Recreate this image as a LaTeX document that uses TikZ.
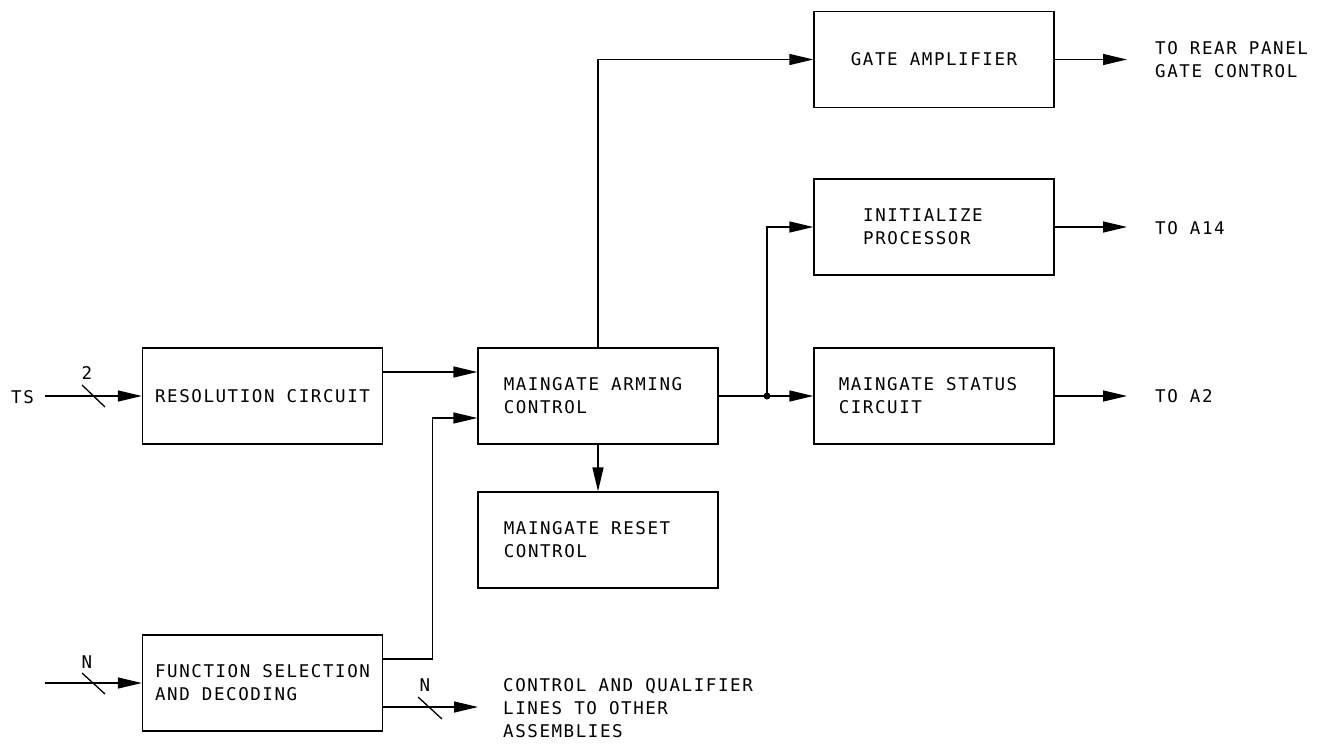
\documentclass[tikz,border=0pt]{standalone}
\usepackage{fontspec}
\newfontfamily\plotfont{DejaVu Sans Mono}[LetterSpace=9]
\usetikzlibrary{arrows.meta}
\begin{document}
\begin{tikzpicture}[x=1pt,y=-1pt,
  every node/.style={font=\plotfont\fontsize{17.5}{23}\selectfont, inner sep=0pt},
  blk/.style={draw, line width=1.3pt, minimum width=240pt, minimum height=96pt, align=left},
  wire/.style={line width=1.3pt},
  arr/.style={wire, -{Triangle[length=24pt,width=11pt]}},
  lbl/.style={anchor=west, align=left}
]
\useasboundingbox (0,0) rectangle (1324,747);

% blocks
\node[blk] (res)  at (262.5,396) {RESOLUTION CIRCUIT};
\node[blk] (arm)  at (598,396)   {MAINGATE ARMING\hspace*{10pt}\\CONTROL};
\node[blk] (rst)  at (598,540)   {MAINGATE RESET\hspace*{22pt}\\CONTROL};
\node[blk] (fun)  at (262.5,683) {FUNCTION SELECTION\\AND DECODING};
\node[blk] (gate) at (934,59.5)  {GATE AMPLIFIER};
\node[blk] (init) at (934,227)   {INITIALIZE\hspace*{22pt}\\PROCESSOR};
\node[blk] (stat) at (934,396)   {MAINGATE STATUS\hspace*{12pt}\\CIRCUIT};

% free texts
\node[lbl] (ts) at (11,397) {TS};
\node (two) at (87,373) {2};
\node (n1) at (87,662) {N};
\node (n2) at (425,685) {N};
\node[lbl] (rear) at (1155,60) {TO REAR PANEL\\GATE CONTROL};
\node[lbl] (a14) at (1155,228) {TO A14};
\node[lbl] (a2) at (1155,396) {TO A2};
\node[lbl] (cq) at (503,708) {CONTROL AND QUALIFIER\\LINES TO OTHER\\ASSEMBLIES};

% coordinates
\coordinate (tsin) at (45,396);
\coordinate (fin) at (45,683);
\coordinate (fo) at (478,707);
\coordinate (j) at (767,396);
\coordinate (o1) at (1127,59.5);
\coordinate (o2) at (1127,227);
\coordinate (o3) at (1127,396);

% connectors
\draw[arr] (tsin) -- (res.west);
\draw[wire] (82,385) -- (105,407);
\draw[arr] (fin) -- (fun.west);
\draw[wire] (82,673) -- (105,694);
\draw[arr] ([yshift=24pt]res.east) -- ([yshift=24pt]arm.west);
\draw[arr] ([yshift=24pt]fun.east) -- ++(49,0) |- ([yshift=-22pt]arm.west);
\draw[arr] ([yshift=-24pt]fun.east) -- (fo);
\draw[wire] (418,697) -- (442,719);
\draw[arr] (arm.south) -- (rst.north);
\draw[arr] (arm.north) |- (gate.west);
\draw[arr] (arm.east) -- (stat.west);
\draw[arr] (j) |- (init.west);
\fill (j) circle[radius=3.5pt];
\draw[arr] (gate.east) -- (o1);
\draw[arr] (init.east) -- (o2);
\draw[arr] (stat.east) -- (o3);
\end{tikzpicture}
\end{document}
